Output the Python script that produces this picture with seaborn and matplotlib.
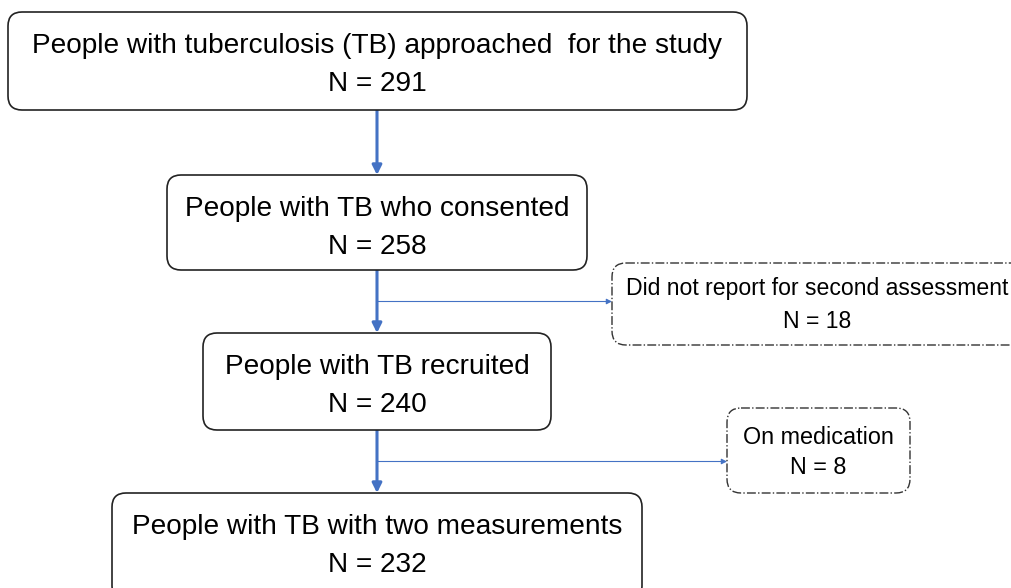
import matplotlib
matplotlib.use('Agg')
import matplotlib.pyplot as plt
import seaborn as sns
from matplotlib.patches import FancyBboxPatch

# main flow stages
stage_labels = [
    "People with tuberculosis (TB) approached  for the study",
    "People with TB who consented",
    "People with TB recruited",
    "People with TB with two measurements",
]
stage_counts = [291, 258, 240, 232]

# excluded between stages
excl_labels = ["Did not report for second assessment", "On medication"]
excl_counts = [18, 8]

sns.set_theme(style="white")
plt.rcParams['font.family'] = ['Liberation Sans', 'DejaVu Sans']

W, H = 1012, 588
fig = plt.figure(figsize=(W / 100, H / 100), dpi=100)
ax = fig.add_axes([0, 0, 1, 1])
ax.set_xlim(0, W)
ax.set_ylim(H, 0)
ax.axis('off')

blue = '#4472C4'

# box geometry in pixel units: (x0, y0, x1, y1)
stage_boxes = [(8, 12, 747, 110), (167, 175, 587, 270),
               (203, 333, 551, 430), (112, 493, 642, 600)]
excl_boxes = [(612, 263, 1025, 345), (727, 408, 910, 493)]
cx = 377


def draw_box(b, label, n, dashed, fs, dy1, dy2, mx=None):
    x0, y0, x1, y1 = b
    ax.add_patch(FancyBboxPatch(
        (x0, y0), x1 - x0, y1 - y0,
        boxstyle="round,pad=0,rounding_size=14",
        facecolor='white', edgecolor='#222222' if not dashed else '#333333',
        linewidth=1.2 if not dashed else 1.0,
        linestyle='-' if not dashed else '-.', zorder=2))
    if mx is None:
        mx = (x0 + x1) / 2
    ax.text(mx, y0 + dy1, label, ha='center', va='center',
            fontsize=fs, color='black', zorder=3)
    ax.text(mx, y0 + dy2, f"N = {n}", ha='center', va='center',
            fontsize=fs, color='black', zorder=3)


for b, lab, n in zip(stage_boxes, stage_labels, stage_counts):
    draw_box(b, lab, n, False, 20.2, 34, 72)

draw_box(excl_boxes[0], excl_labels[0], excl_counts[0], True, 16.6, 26, 58, mx=817)
draw_box(excl_boxes[1], excl_labels[1], excl_counts[1], True, 16.8, 29, 60)

# vertical arrows
for upper, lower in zip(stage_boxes[:-1], stage_boxes[1:]):
    ax.annotate('', xy=(cx, lower[1]), xytext=(cx, upper[3]),
                arrowprops=dict(arrowstyle='-|>', color=blue, lw=2.2,
                                mutation_scale=14, shrinkA=0, shrinkB=0),
                zorder=1)

# side arrows to exclusions
for i, b in zip([1, 2], excl_boxes):
    y = (stage_boxes[i][3] + stage_boxes[i + 1][1]) / 2
    ax.annotate('', xy=(b[0], y), xytext=(cx, y),
                arrowprops=dict(arrowstyle='-|>', color=blue, lw=0.8,
                                mutation_scale=8, shrinkA=0, shrinkB=0),
                zorder=1)

fig.savefig('out.png', dpi=100)
